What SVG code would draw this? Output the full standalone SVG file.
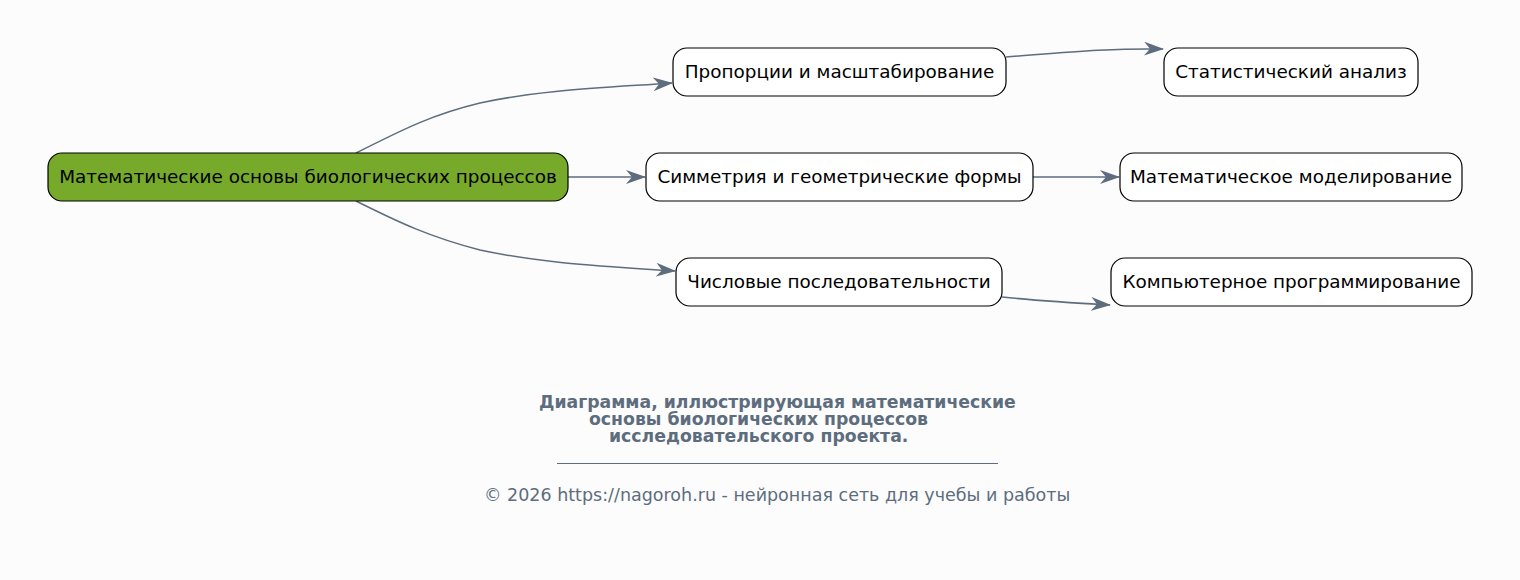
<svg xmlns="http://www.w3.org/2000/svg" width="1520" height="580" viewBox="0 0 1520 580">
<style>
.bg{fill:#FCFCFC}
.node rect{fill:#FFFFFF;stroke:#000000;stroke-width:1.2}
.root rect{fill:#77AA2A}
.node text{font-family:"DejaVu Sans",sans-serif;font-size:18.4px;fill:#000000;text-anchor:middle;dominant-baseline:central}
.edge{fill:none;stroke:#5D6D7E;stroke-width:1.5;marker-end:url(#arr)}
.cap{font-family:"DejaVu Sans",sans-serif;font-size:17.3px;font-weight:bold;fill:#5D6D7E}
.foot{font-family:"DejaVu Sans",sans-serif;font-size:17.5px;fill:#5D6D7E}
</style>
<defs>
<marker id="arr" viewBox="0 0 20 14" refX="19" refY="7" markerWidth="20" markerHeight="14" markerUnits="userSpaceOnUse" orient="auto">
<path d="M0,0 L20,7 L0,14 L6,7 Z" fill="#5D6D7E"/>
</marker>
</defs>
<rect class="bg" x="0" y="0" width="1520" height="580"/>
<g id="connectors">
<path class="edge" d="M356,153 C400,131 430,115 480,103 C540,90 600,88 672,83"/>
<path class="edge" d="M568,177 L645,177"/>
<path class="edge" d="M356,201 C400,223 430,237 480,250 C540,263 600,266 675,271"/>
<path class="edge" d="M1006,57 C1060,53 1110,48 1163,49"/>
<path class="edge" d="M1033,177 L1119,177"/>
<path class="edge" d="M1002,297 C1040,301 1075,303 1110,305"/>
</g>
<g id="root" class="node root"><rect x="48" y="153" width="520" height="48" rx="14"/><text x="308" y="176">Математические основы биологических процессов</text></g>
<g id="n1" class="node"><rect x="673" y="48" width="333" height="48" rx="14"/><text x="839.5" y="71">Пропорции и масштабирование</text></g>
<g id="n2" class="node"><rect x="646" y="153" width="387" height="48" rx="14"/><text x="839.5" y="176">Симметрия и геометрические формы</text></g>
<g id="n3" class="node"><rect x="676" y="258" width="326" height="48" rx="14"/><text x="839" y="281">Числовые последовательности</text></g>
<g id="n4" class="node"><rect x="1164" y="48" width="254" height="48" rx="14"/><text x="1291" y="71">Статистический анализ</text></g>
<g id="n5" class="node"><rect x="1120" y="153" width="342" height="48" rx="14"/><text x="1291" y="176">Математическое моделирование</text></g>
<g id="n6" class="node"><rect x="1111" y="258" width="361" height="48" rx="14"/><text x="1291.5" y="281">Компьютерное программирование</text></g>
<g id="caption">
<text class="cap" x="539" y="408">Диаграмма, иллюстрирующая математические</text>
<text class="cap" x="589" y="425">основы биологических процессов</text>
<text class="cap" x="609" y="442">исследовательского проекта.</text>
<line x1="557" y1="463.5" x2="998" y2="463.5" stroke="#5D6D7E" stroke-width="1"/>
<text class="foot" x="484" y="501">© 2026 https://nagoroh.ru - нейронная сеть для учебы и работы</text>
</g>
</svg>
